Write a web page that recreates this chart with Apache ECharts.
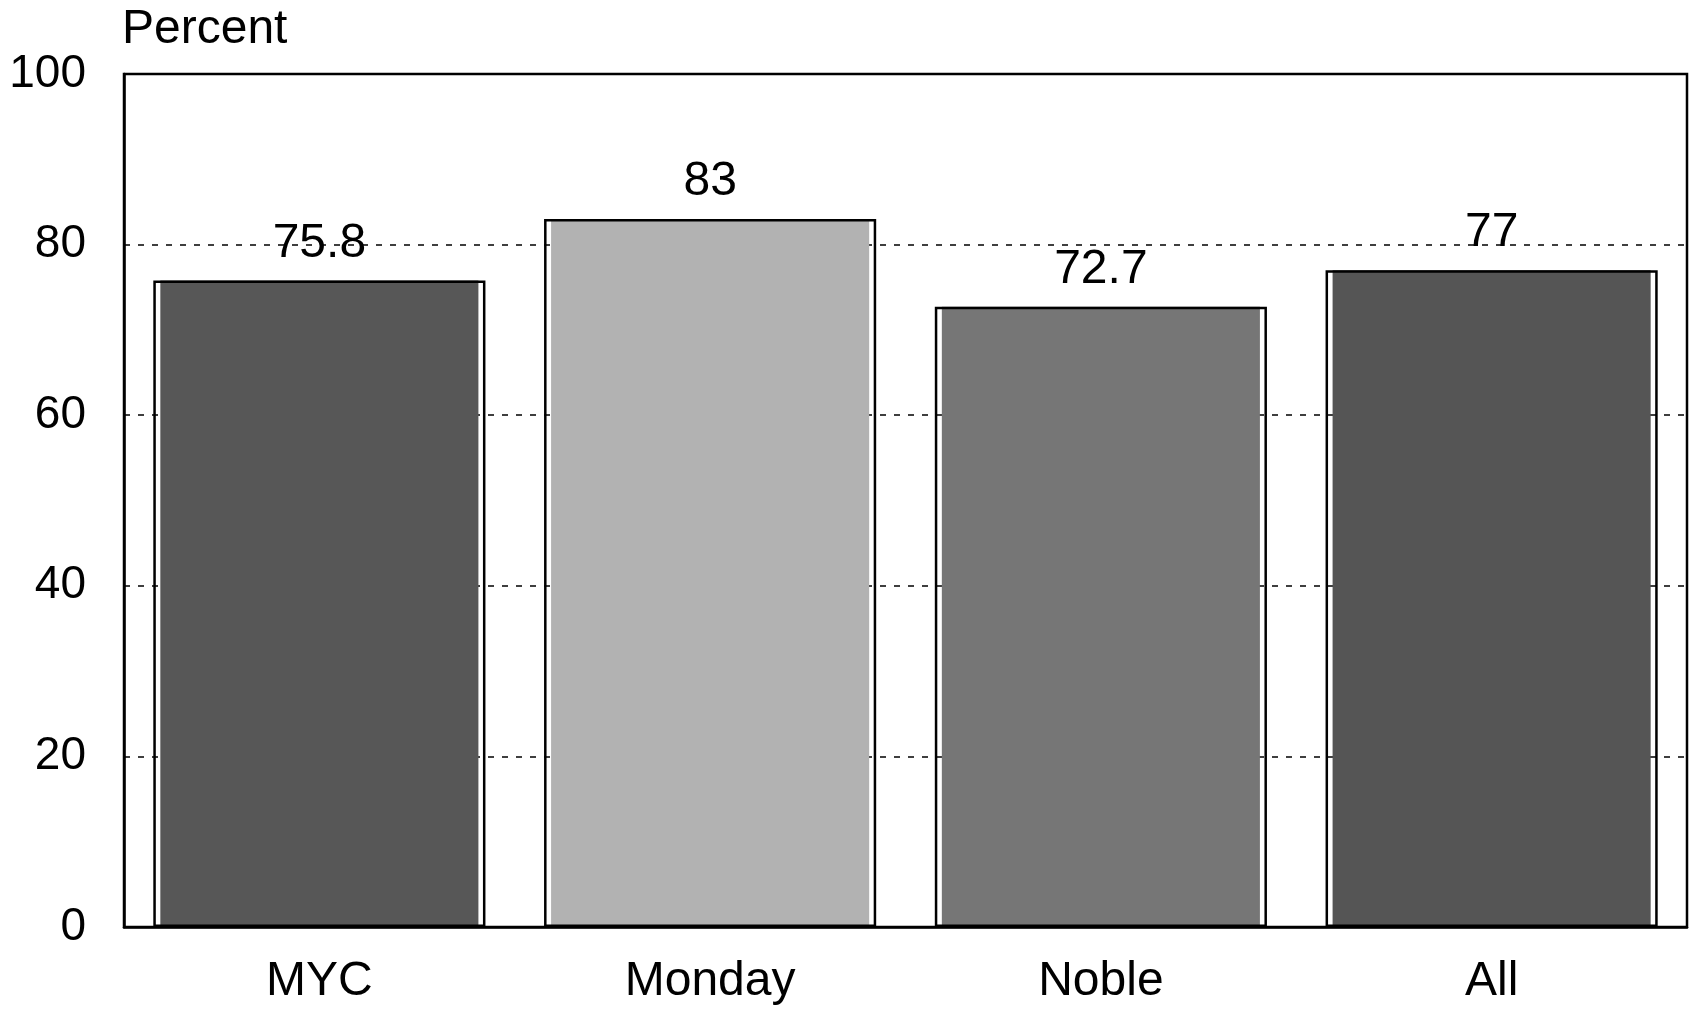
<!DOCTYPE html>
<html>
<head>
<meta charset="utf-8">
<script src="https://cdn.jsdelivr.net/npm/echarts@6/dist/echarts.min.js"></script>
<style>
  html, body { margin: 0; padding: 0; background: #fff; }
  #chart { width: 1689px; height: 1009px; }
</style>
</head>
<body>
<div id="chart"></div>
<script>
// Share of respondents (percent) by group
const categories = ['MYC', 'Monday', 'Noble', 'All'];
const percentValues = [75.8, 83, 72.7, 77];
const yTicks = [0, 20, 40, 60, 80, 100];
// Tone of the stippled fill for each bar
const fillTones = ['#575757', '#b2b2b2', '#767676', '#555555'];

const FONT = "'Liberation Sans', Arial, sans-serif";

const chart = echarts.init(document.getElementById('chart'), null, { renderer: 'canvas' });

chart.setOption({
  animation: false,
  backgroundColor: '#ffffff',
  grid: {
    left: 124, right: 2, top: 74, bottom: 82,
    show: true, borderColor: '#000', borderWidth: 2.5, backgroundColor: 'transparent'
  },
  xAxis: [
    {
      type: 'category',
      data: categories,
      axisLine: { show: true, lineStyle: { color: '#000', width: 2.5 } },
      axisTick: { show: false },
      axisLabel: { color: '#000', fontFamily: FONT, fontSize: 48, margin: 31 }
    },
    {
      type: 'category',
      data: categories,
      position: 'bottom',
      show: false
    }
  ],
  yAxis: {
    type: 'value',
    min: yTicks[0],
    max: yTicks[yTicks.length - 1],
    interval: yTicks[1] - yTicks[0],
    name: 'Percent',
    nameLocation: 'end',
    nameGap: 20,
    nameTextStyle: { color: '#000', fontFamily: FONT, fontSize: 48, align: 'left', padding: [0, 0, 0, -2] },
    axisLine: { show: true, lineStyle: { color: '#000', width: 2.5 } },
    axisTick: { show: false },
    axisLabel: { color: '#000', fontFamily: FONT, fontSize: 46, margin: 38 },
    splitLine: { show: true, lineStyle: { color: '#000', width: 1.5, type: [6, 8] } }
  },
  series: [
    {
      // stippled interior, slightly inset from the outline
      name: 'fill',
      type: 'bar',
      xAxisIndex: 1,
      barCategoryGap: '18.6%',
      z: 2,
      data: percentValues.map((v, i) => ({ value: v, itemStyle: { color: fillTones[i] } })),
      silent: true
    },
    {
      // black outline with the value label
      name: 'Percent',
      type: 'bar',
      xAxisIndex: 0,
      barCategoryGap: '15%',
      z: 3,
      data: percentValues,
      itemStyle: { color: 'rgba(0,0,0,0)', borderColor: '#000', borderWidth: 2.5 },
      label: {
        show: true,
        position: 'top',
        distance: 13,
        color: '#000',
        fontFamily: FONT,
        fontSize: 48,
        formatter: p => String(p.value)
      }
    }
  ]
});
</script>
</body>
</html>
